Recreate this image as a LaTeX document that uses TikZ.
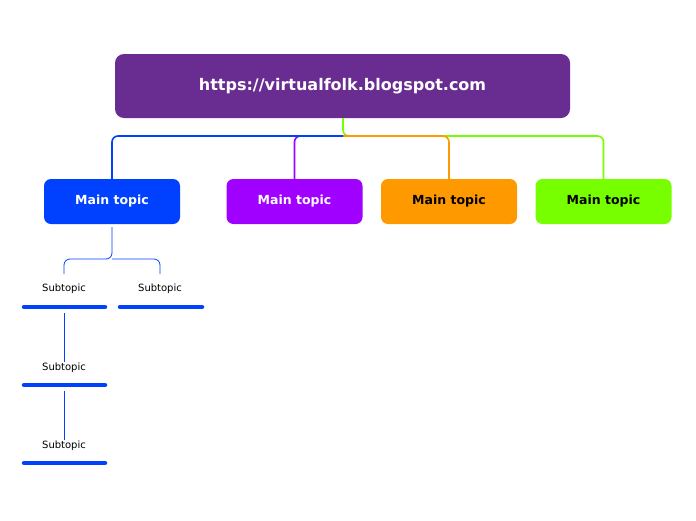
\documentclass[tikz,border=0pt]{standalone}
\usepackage{fontspec}
\setmainfont{DejaVu Sans}
\begin{document}
\begin{tikzpicture}[x=1pt,y=-1pt,
  root/.style={rounded corners=9pt,fill=rootc,minimum width=455pt,minimum height=64pt,text=white,font=\bfseries\fontsize{16}{18}\selectfont},
  topic/.style={rounded corners=7pt,minimum width=136pt,minimum height=45pt,font=\bfseries\fontsize{12.5}{14}\selectfont},
  sub/.style={font=\fontsize{10}{12}\selectfont,inner sep=1pt},
  conn/.style={line width=1.6pt,rounded corners=6pt},
  subconn/.style={line width=0.8pt,draw=tblue,rounded corners=6pt},
  uline/.style={line width=4.5pt,line cap=round,draw=tblue}]
\definecolor{rootc}{HTML}{692C91}
\definecolor{tblue}{HTML}{0040FF}
\definecolor{tpurple}{HTML}{A000FF}
\definecolor{torange}{HTML}{FF9900}
\definecolor{tgreen}{HTML}{77FF00}
\useasboundingbox (0,0) rectangle (696,520);
\fill[white] (0,0) rectangle (696,520);
\node[root] (r) at (342.5,86) {https://virtualfolk.blogspot.com};
\node[topic,fill=tblue,text=white] (t1) at (112,201.5) {Main topic};
\node[topic,fill=tpurple,text=white] (t2) at (294.5,201.5) {Main topic};
\node[topic,fill=torange,text=black] (t3) at (449,201.5) {Main topic};
\node[topic,fill=tgreen,text=black] (t4) at (603.5,201.5) {Main topic};
\coordinate (j) at (343,136);
\draw[conn,tgreen] (r.south -| j) -- (j) -| (t4.north);
\draw[conn,torange] (j) -| (t3.north);
\draw[conn,tpurple] (j) -| (t2.north);
\draw[conn,tblue] (j) -| (t1.north);
\node[sub] (s1) at (64,289) {Subtopic};
\node[sub] (s2) at (160,289) {Subtopic};
\node[sub] (s3) at (64,368) {Subtopic};
\node[sub] (s4) at (64,446) {Subtopic};
\coordinate (k) at (112,259);
\draw[subconn] (112,227) -- (k) -| (64,274);
\draw[subconn] (k) -| (160,274);
\draw[uline] (24,307) -- (105,307);
\draw[uline] (120,307) -- (202,307);
\draw[uline] (24,385) -- (105,385);
\draw[uline] (24,463) -- (105,463);
\draw[subconn] (64,313) -- (s3.north);
\draw[subconn] (64,391) -- (s4.north);
\end{tikzpicture}
\end{document}
